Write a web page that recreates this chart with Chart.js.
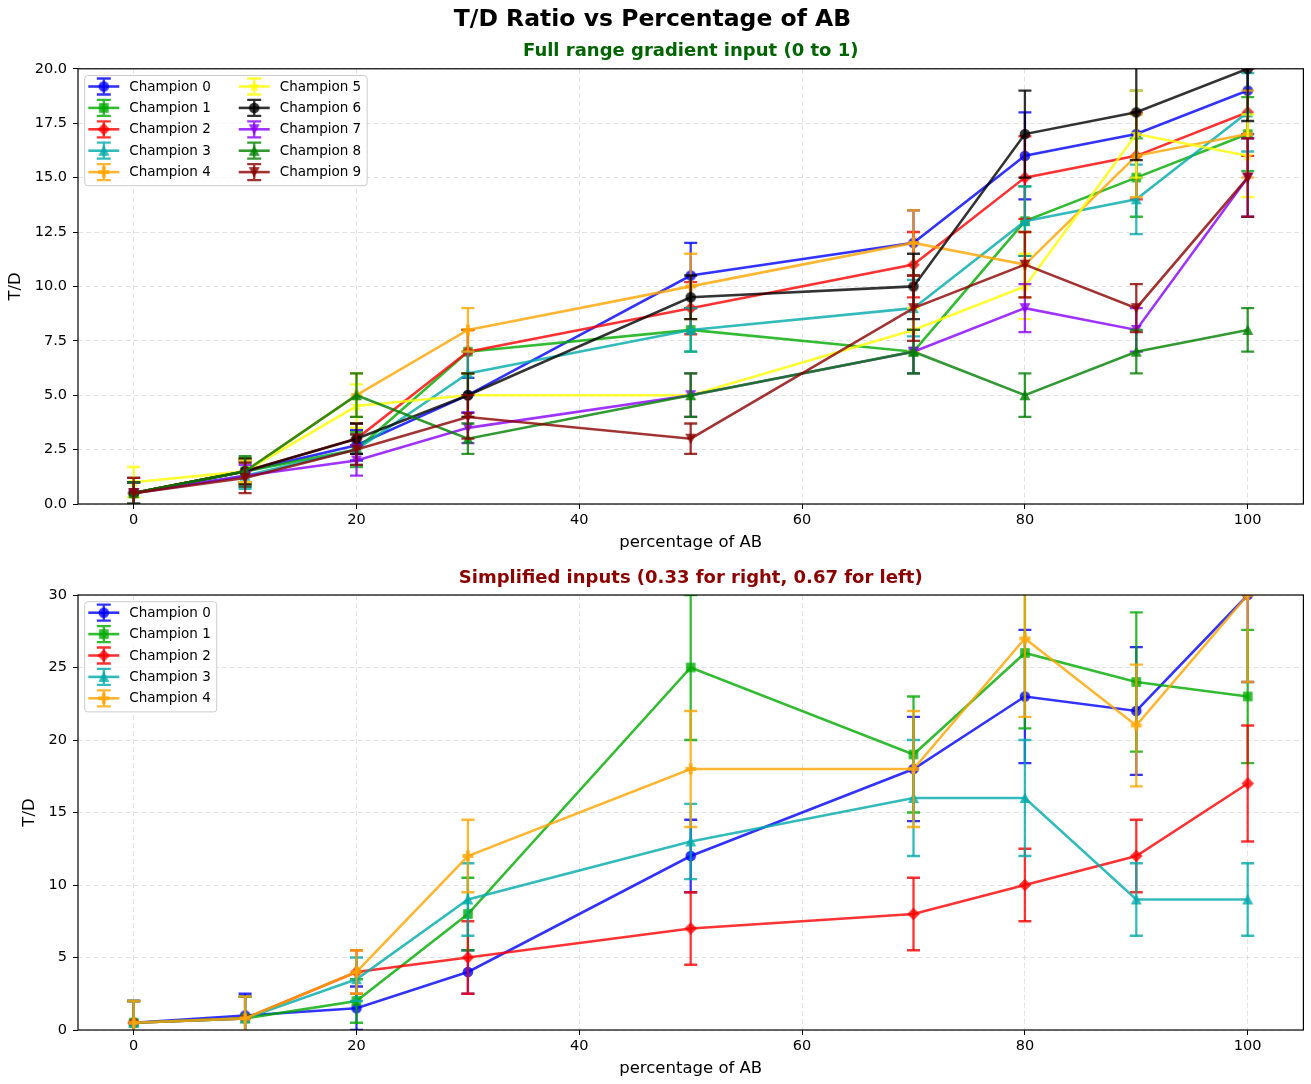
<!DOCTYPE html>
<html>
<head>
<meta charset="utf-8">
<title>T/D Ratio vs Percentage of AB</title>
<script src="https://cdn.jsdelivr.net/npm/chart.js@4.4.1/dist/chart.umd.min.js"></script>
<style>
  html, body { margin: 0; padding: 0; background: #fff; }
  #wrap { position: relative; width: 1311px; height: 1084px; }
  #wrap canvas { position: absolute; left: 0; }
</style>
</head>
<body>
<div id="wrap">
  <canvas id="fullChart" width="1311" height="560" style="top:0;width:1311px;height:560px"></canvas>
  <canvas id="simpleChart" width="1311" height="524" style="top:560px;width:1311px;height:524px"></canvas>
</div>
<script>
// Percentage of AB tested for every champion
const xValues = [0, 10, 20, 30, 50, 70, 80, 90, 100];

// Full range gradient input (0 to 1): mean T/D and its error
const fullMean0 = [0.5, 1.5, 2.7, 5, 10.5, 12, 16, 17, 19];
const fullErr0  = [0.7, 0.5, 0.7, 0.8, 1.5, 1.5, 2, 2, 2];
const fullMean1 = [0.5, 1.5, 2.5, 7, 8, 7, 13, 15, 17];
const fullErr1  = [0.5, 0.6, 0.8, 1, 1, 1, 1.6, 1.8, 1.7];
const fullMean2 = [0.5, 1.5, 3, 7, 9, 11, 15, 16, 18];
const fullErr2  = [0.5, 0.5, 0.7, 1, 1.2, 1.5, 1.9, 2, 2];
const fullMean3 = [0.5, 1.3, 2.5, 6, 8, 9, 13, 14, 18];
const fullErr3  = [0.5, 0.6, 0.7, 1, 1, 1.3, 1.6, 1.6, 1.8];
const fullMean4 = [0.5, 1.5, 5, 8, 10, 12, 11, 16, 17];
const fullErr4  = [0.7, 0.6, 1, 1, 1.5, 1.5, 1.5, 1.9, 2];
const fullMean5 = [1, 1.5, 4.5, 5, 5, 8, 10, 17, 16];
const fullErr5  = [0.7, 0.5, 1, 1, 1, 1, 1.5, 2, 1.9];
const fullMean6 = [0.5, 1.5, 3, 5, 9.5, 10, 17, 18, 20];
const fullErr6  = [0.5, 0.6, 0.7, 1, 1, 1.5, 2, 2.2, 2.4];
const fullMean7 = [0.5, 1.3, 2, 3.5, 5, 7, 9, 8, 15];
const fullErr7  = [0.5, 0.5, 0.7, 0.7, 1, 1, 1.1, 1, 1.8];
const fullMean8 = [0.5, 1.5, 5, 3, 5, 7, 5, 7, 8];
const fullErr8  = [0.5, 0.7, 1, 0.7, 1, 1, 1, 1, 1];
const fullMean9 = [0.5, 1.2, 2.5, 4, 3, 9, 11, 9, 15];
const fullErr9  = [0.7, 0.7, 0.7, 1, 0.7, 1.5, 1.5, 1.1, 1.8];

// Simplified inputs (0.33 right, 0.67 left)
const simpMean0 = [0.5, 1, 1.5, 4, 12, 18, 23, 22, 30];
const simpErr0  = [1.5, 1.5, 1.5, 1.5, 2.5, 3.6, 4.6, 4.4, 6];
const simpMean1 = [0.5, 0.8, 2, 8, 25, 19, 26, 24, 23];
const simpErr1  = [1.5, 1.5, 1.5, 2.5, 5, 4, 5.2, 4.8, 4.6];
const simpMean2 = [0.5, 0.8, 4, 5, 7, 8, 10, 12, 17];
const simpErr2  = [1.5, 1.5, 1.5, 2.5, 2.5, 2.5, 2.5, 2.5, 4];
const simpMean3 = [0.5, 0.8, 3.5, 9, 13, 16, 16, 9, 9];
const simpErr3  = [1.5, 1.5, 1.5, 2.5, 2.6, 4, 4, 2.5, 2.5];
const simpMean4 = [0.5, 0.8, 4, 12, 18, 18, 27, 21, 30];
const simpErr4  = [1.5, 1.5, 1.5, 2.5, 4, 4, 5.4, 4.2, 6];

const FONT = "'DejaVu Sans', sans-serif";
const ALPHA = 0.8;
const CAP = 6.5;

// one colour and one marker per champion
const champColors = ['#0000ff', '#00aa00', '#ff0000', '#00aaaa', '#ffa500',
                     '#ffff00', '#000000', '#8800ff', '#008000', '#8b0000'];
const champMarkers = ['o', 's', 'D', '^', 'P', '*', 'o', 'v', '^', 'v'];

Chart.defaults.font.family = FONT;
Chart.defaults.color = '#000';
Chart.defaults.animation = false;

function rgba(hex, a) {
    const n = parseInt(hex.slice(1), 16);
    return `rgba(${(n >> 16) & 255}, ${(n >> 8) & 255}, ${n & 255}, ${a})`;
}

// small canvas used as a point style (filled plus, star, etc.)
function makeMarker(kind, color) {
    const size = 18, m = size / 2;
    const c = document.createElement('canvas');
    c.width = size; c.height = size;
    const g = c.getContext('2d');
    g.fillStyle = color;
    g.beginPath();
    if (kind === 'o') {
        g.arc(m, m, 5.3, 0, Math.PI * 2);
    } else if (kind === 's') {
        g.rect(m - 4.8, m - 4.8, 9.6, 9.6);
    } else if (kind === 'D') {
        g.moveTo(m, m - 6.3); g.lineTo(m + 6.3, m); g.lineTo(m, m + 6.3); g.lineTo(m - 6.3, m);
    } else if (kind === '^') {
        g.moveTo(m, m - 5.5); g.lineTo(m + 5.5, m + 5); g.lineTo(m - 5.5, m + 5);
    } else if (kind === 'v') {
        g.moveTo(m, m + 5.5); g.lineTo(m + 5.5, m - 5); g.lineTo(m - 5.5, m - 5);
    } else if (kind === 'P') {
        const a = 5.5, b = 1.9;
        g.moveTo(m - b, m - a); g.lineTo(m + b, m - a); g.lineTo(m + b, m - b);
        g.lineTo(m + a, m - b); g.lineTo(m + a, m + b); g.lineTo(m + b, m + b);
        g.lineTo(m + b, m + a); g.lineTo(m - b, m + a); g.lineTo(m - b, m + b);
        g.lineTo(m - a, m + b); g.lineTo(m - a, m - b); g.lineTo(m - b, m - b);
    } else if (kind === '*') {
        for (let k = 0; k < 10; k++) {
            const r = k % 2 === 0 ? 6.6 : 2.6;
            const ang = -Math.PI / 2 + k * Math.PI / 5;
            const px = m + r * Math.cos(ang), py = m + r * Math.sin(ang);
            if (k === 0) g.moveTo(px, py); else g.lineTo(px, py);
        }
    }
    g.closePath();
    g.fill();
    return c;
}

function buildDatasets(means, errs) {
    return means.map((vals, i) => {
        const col = rgba(champColors[i], ALPHA);
        return {
            label: 'Champion ' + i,
            data: xValues.map((x, j) => ({ x: x, y: vals[j] })),
            errors: errs[i],
            borderColor: col,
            backgroundColor: col,
            borderWidth: 2.6,
            pointStyle: makeMarker(champMarkers[i], col),
            pointRadius: 5,
            pointHoverRadius: 5,
            tension: 0,
            order: -i
        };
    });
}

// vertical error bars with caps, drawn right after each series
const errorBarPlugin = {
    id: 'errorBars',
    afterDatasetDraw(chart, args) {
        const ds = chart.data.datasets[args.index];
        if (!ds.errors) return;
        const { ctx, chartArea: ca, scales } = chart;
        ctx.save();
        ctx.beginPath();
        ctx.rect(ca.left, ca.top, ca.right - ca.left, ca.bottom - ca.top);
        ctx.clip();
        ctx.strokeStyle = ds.borderColor;
        ctx.lineWidth = 2.3;
        ds.data.forEach((p, j) => {
            const px = scales.x.getPixelForValue(p.x);
            const hi = scales.y.getPixelForValue(p.y + ds.errors[j]);
            const lo = scales.y.getPixelForValue(p.y - ds.errors[j]);
            ctx.beginPath();
            ctx.moveTo(px, hi); ctx.lineTo(px, lo);
            ctx.stroke();
            ctx.beginPath();
            ctx.moveTo(px - CAP, hi); ctx.lineTo(px + CAP, hi);
            ctx.moveTo(px - CAP, lo); ctx.lineTo(px + CAP, lo);
            ctx.stroke();
        });
        ctx.restore();
    }
};

// black box round the plotting area
const framePlugin = {
    id: 'frame',
    afterDatasetsDraw(chart) {
        const { ctx, chartArea: ca } = chart;
        ctx.save();
        ctx.strokeStyle = '#000';
        ctx.lineWidth = 1.2;
        ctx.strokeRect(ca.left, ca.top, ca.right - ca.left, ca.bottom - ca.top);
        ctx.restore();
    }
};

// legend in the upper left corner, errorbar style handles
const boxLegendPlugin = {
    id: 'boxLegend',
    afterDraw(chart, args, opts) {
        const { ctx, chartArea: ca } = chart;
        const sets = chart.data.datasets;
        const cols = opts.columns || 1;
        const rows = Math.ceil(sets.length / cols);
        ctx.save();
        ctx.font = `13.5px ${FONT}`;
        const textW = Math.max(...sets.map(d => ctx.measureText(d.label).width));
        const handle = 31, gap = 10, colGap = 28, padL = 3.6, padR = 6;
        const rowH = 21.4, padT = 11, padB = 13.6;
        const colW = handle + gap + textW;
        const w = padL + cols * colW + (cols - 1) * colGap + padR;
        const h = padT + (rows - 1) * rowH + padB;
        const x0 = ca.left + 6.7, y0 = ca.top + 6.7;

        ctx.beginPath();
        ctx.roundRect(x0, y0, w, h, 3);
        ctx.fillStyle = 'rgba(255,255,255,0.8)';
        ctx.fill();
        ctx.strokeStyle = '#cccccc';
        ctx.lineWidth = 1;
        ctx.stroke();

        sets.forEach((d, i) => {
            const col = Math.floor(i / rows), row = i % rows;
            const hx = x0 + padL + col * (colW + colGap);
            const cy = y0 + padT + row * rowH;
            const cx = hx + handle / 2;
            ctx.strokeStyle = d.borderColor;
            ctx.lineWidth = 2.6;
            ctx.beginPath();
            ctx.moveTo(hx, cy); ctx.lineTo(hx + handle, cy);
            ctx.stroke();
            ctx.lineWidth = 2.3;
            ctx.beginPath();
            ctx.moveTo(cx, cy - 8); ctx.lineTo(cx, cy + 8);
            ctx.moveTo(cx - 7, cy - 8); ctx.lineTo(cx + 7, cy - 8);
            ctx.moveTo(cx - 7, cy + 8); ctx.lineTo(cx + 7, cy + 8);
            ctx.stroke();
            const mk = d.pointStyle;
            ctx.drawImage(mk, cx - mk.width / 2, cy - mk.height / 2);
            ctx.fillStyle = '#000';
            ctx.textBaseline = 'middle';
            ctx.textAlign = 'left';
            ctx.fillText(d.label, hx + handle + gap, cy + 0.5);
        });
        ctx.restore();
    }
};

function makeScales(yMax, yStep, yFormat, yTitlePad, xHeight, xTitlePad) {
    const grid = {
        color: 'rgba(176,176,176,0.35)',
        lineWidth: 1,
        tickLength: 5,
        tickColor: '#000',
        tickWidth: 1,
        tickBorderDash: []
    };
    return {
        x: {
            type: 'linear',
            min: -5,
            max: 105,
            ticks: { stepSize: 20, includeBounds: false, font: { size: 14.5 }, color: '#000', padding: 3, maxRotation: 0 },
            grid: grid,
            border: { display: false, dash: [5, 3] },
            title: { display: true, text: 'percentage of AB', font: { size: 16.5 }, color: '#000', padding: { top: 0, bottom: xTitlePad } },
            afterFit: s => { s.height = xHeight; }
        },
        y: {
            type: 'linear',
            min: 0,
            max: yMax,
            ticks: { stepSize: yStep, callback: yFormat, font: { size: 14.5 }, color: '#000', padding: 6 },
            grid: grid,
            border: { display: false, dash: [5, 3] },
            title: { display: true, text: 'T/D', font: { size: 16.5 }, color: '#000', padding: { top: yTitlePad, bottom: 0 } },
            afterFit: s => { s.width = 78; }
        }
    };
}

// Top panel: full range gradient input, ten champions
new Chart(document.getElementById('fullChart'), {
    type: 'line',
    data: {
        datasets: buildDatasets(
            [fullMean0, fullMean1, fullMean2, fullMean3, fullMean4, fullMean5, fullMean6, fullMean7, fullMean8, fullMean9],
            [fullErr0, fullErr1, fullErr2, fullErr3, fullErr4, fullErr5, fullErr6, fullErr7, fullErr8, fullErr9])
    },
    options: {
        responsive: false,
        layout: { padding: { left: 0, right: 6, top: 0, bottom: 0 } },
        scales: makeScales(20, 2.5, v => v.toFixed(1), 6.1, 56, 7.1),
        plugins: {
            legend: { display: false },
            tooltip: { enabled: false },
            title: {
                display: true,
                text: 'T/D Ratio vs Percentage of AB',
                color: '#000',
                font: { size: 23.5, weight: 'bold' },
                padding: { top: 5.6, bottom: 3 }
            },
            subtitle: {
                display: true,
                text: 'Full range gradient input (0 to 1)',
                color: '#006400',
                fullSize: false,
                font: { size: 18, weight: 'bold' },
                padding: { top: 4.2, bottom: 6.2 }
            },
            boxLegend: { columns: 2 }
        }
    },
    plugins: [errorBarPlugin, framePlugin, boxLegendPlugin]
});

// Bottom panel: simplified inputs, five champions
new Chart(document.getElementById('simpleChart'), {
    type: 'line',
    data: {
        datasets: buildDatasets(
            [simpMean0, simpMean1, simpMean2, simpMean3, simpMean4],
            [simpErr0, simpErr1, simpErr2, simpErr3, simpErr4])
    },
    options: {
        responsive: false,
        layout: { padding: { left: 0, right: 6, top: 0, bottom: 0 } },
        scales: makeScales(30, 5, v => String(v), 20.1, 54, 5.1),
        plugins: {
            legend: { display: false },
            tooltip: { enabled: false },
            title: {
                display: true,
                text: 'Simplified inputs (0.33 for right, 0.67 for left)',
                color: '#8b0000',
                fullSize: false,
                font: { size: 18, weight: 'bold' },
                padding: { top: 7.2, bottom: 6.2 }
            },
            boxLegend: { columns: 1 }
        }
    },
    plugins: [errorBarPlugin, framePlugin, boxLegendPlugin]
});
</script>
</body>
</html>
